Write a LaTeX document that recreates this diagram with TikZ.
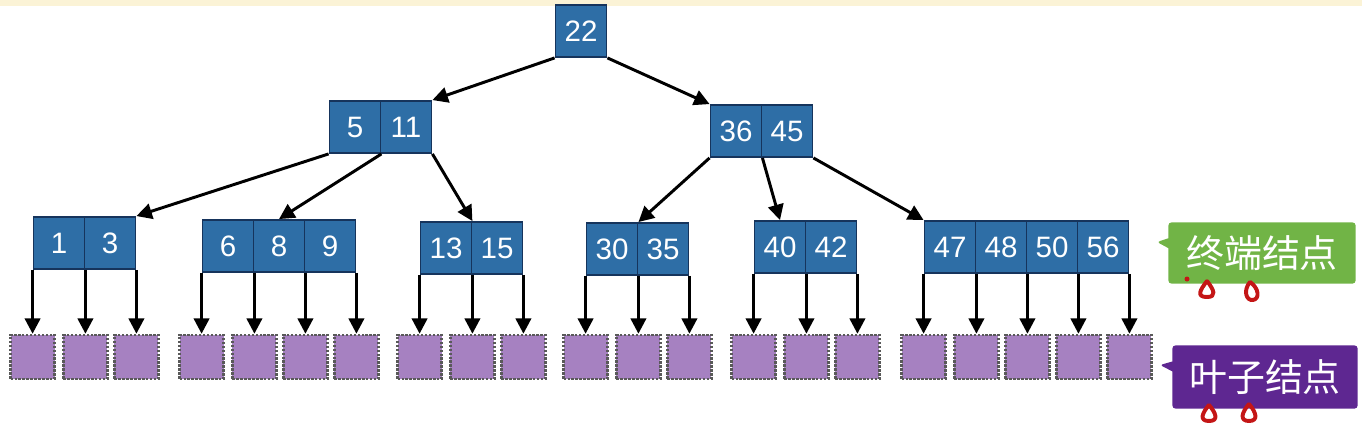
\documentclass[tikz,border=0pt]{standalone}
\usepackage{fontspec}
\setmainfont{Liberation Sans}
\newfontfamily\cjkfont{Noto Sans CJK SC}
\usetikzlibrary{arrows.meta,shapes.callouts}
\definecolor{keyblue}{RGB}{46,110,166}
\definecolor{keyedge}{RGB}{22,52,92}
\definecolor{leafpurple}{RGB}{166,129,193}
\definecolor{tipgreen}{RGB}{113,180,70}
\definecolor{tippurple}{RGB}{94,39,145}
\definecolor{paper}{RGB}{251,243,214}
\definecolor{pen}{RGB}{196,22,22}
\tikzset{
	key/.style={draw=keyedge, fill=keyblue, line width=1.3pt, minimum width=1.275cm, minimum height=1.3cm, inner sep=0pt, text=white, font=\fontsize{21}{23}\selectfont},
	leaf/.style={draw=gray!70!black, densely dotted, line width=1.8pt, fill=leafpurple, minimum size=1.1cm, inner sep=0pt},
	ptr/.style={-{Triangle[length=11pt,width=11pt]}, line width=2.1pt},
	tag/.style={rectangle callout, rounded corners=2pt, text=white, inner sep=0pt, font=\cjkfont\fontsize{27}{29}\selectfont},
	penmark/.style={draw=pen, line width=2.8pt, line cap=round, line join=round},
}

\begin{document}
\begin{tikzpicture}[x=0.025cm, y=-0.025cm]
		%%%%% START %%%%%
		\useasboundingbox (0,0) rectangle (1362,429);
		\fill[paper] (0,0) rectangle (1362,6);
		
		% root and inner keys
		\node[key] (n22) at (581,31) {22};
		\node[key] (n5) at (355,127) {5};
		\node[key] (n11) at (406,127) {11};
		\node[key] (n36) at (736,131) {36};
		\node[key] (n45) at (787,131) {45};
		
		% terminal keys
		\node[key] (n1) at (59,243) {1};
		\node[key] (n3) at (110,243) {3};
		\node[key] (n6) at (228,246) {6};
		\node[key] (n8) at (279,246) {8};
		\node[key] (n9) at (330,246) {9};
		\node[key] (n13) at (446,248) {13};
		\node[key] (n15) at (497,248) {15};
		\node[key] (n30) at (612,249) {30};
		\node[key] (n35) at (663,249) {35};
		\node[key] (n40) at (780,247) {40};
		\node[key] (n42) at (831,247) {42};
		\node[key] (n47) at (950,247) {47};
		\node[key] (n48) at (1001,247) {48};
		\node[key] (n50) at (1052,247) {50};
		\node[key] (n56) at (1103,247) {56};
		
		\draw[ptr] (n22.south west) -- (n11.north east);
		\draw[ptr] (n22.south east) -- (n36.north west);
		\draw[ptr] (n5.south west) -- (n3.north east);
		\draw[ptr] (n5.south east) -- (n8.north);
		\draw[ptr] (n11.south east) -- (n13.north east);
		\draw[ptr] (n36.south west) -- (n30.north east);
		\draw[ptr] (n36.south east) -- (n40.north);
		\draw[ptr] (n45.south east) -- (n47.north west);
		
		% leaves
		\foreach \c [count=\i] in {n1.south west, n1.south east, n3.south east,
			n6.south west, n6.south east, n8.south east, n9.south east,
			n13.south west, n13.south east, n15.south east,
			n30.south west, n30.south east, n35.south east,
			n40.south west, n40.south east, n42.south east,
			n47.south west, n47.south east, n48.south east, n50.south east, n56.south east}{
			\node[leaf] (leaf\i) at (\c |- 0,357) {};
			\draw[ptr] (\c) -- (leaf\i.north);
		}
		
		% labels
		\node[tag, fill=tipgreen, minimum width=4.675cm, minimum height=1.525cm,
			callout absolute pointer={(1157,242)}] (term) at (1262,253) {终端结点};
		\node[tag, fill=tippurple, minimum width=4.625cm, minimum height=1.575cm,
			callout absolute pointer={(1160,365)}] (leafs) at (1265,377) {叶子结点};
		
		% pen marks
		\fill[pen] (1187,279) circle (2.5);
		\draw[penmark] (1207,281) .. controls (1200,290) and (1196,297) .. (1207,297) .. controls (1217,297) and (1214,290) .. (1207,281);
		\draw[penmark] (1250,282) .. controls (1243,290) and (1246,301) .. (1253,300) .. controls (1260,299) and (1259,288) .. (1250,282);
		\draw[penmark] (1209,405) .. controls (1202,413) and (1199,421) .. (1209,421) .. controls (1219,421) and (1216,413) .. (1209,405);
		\draw[penmark] (1249,404) .. controls (1242,412) and (1239,421) .. (1249,421) .. controls (1259,421) and (1256,412) .. (1249,404);
		%%%%% END %%%%%
	\end{tikzpicture}
\end{document}
